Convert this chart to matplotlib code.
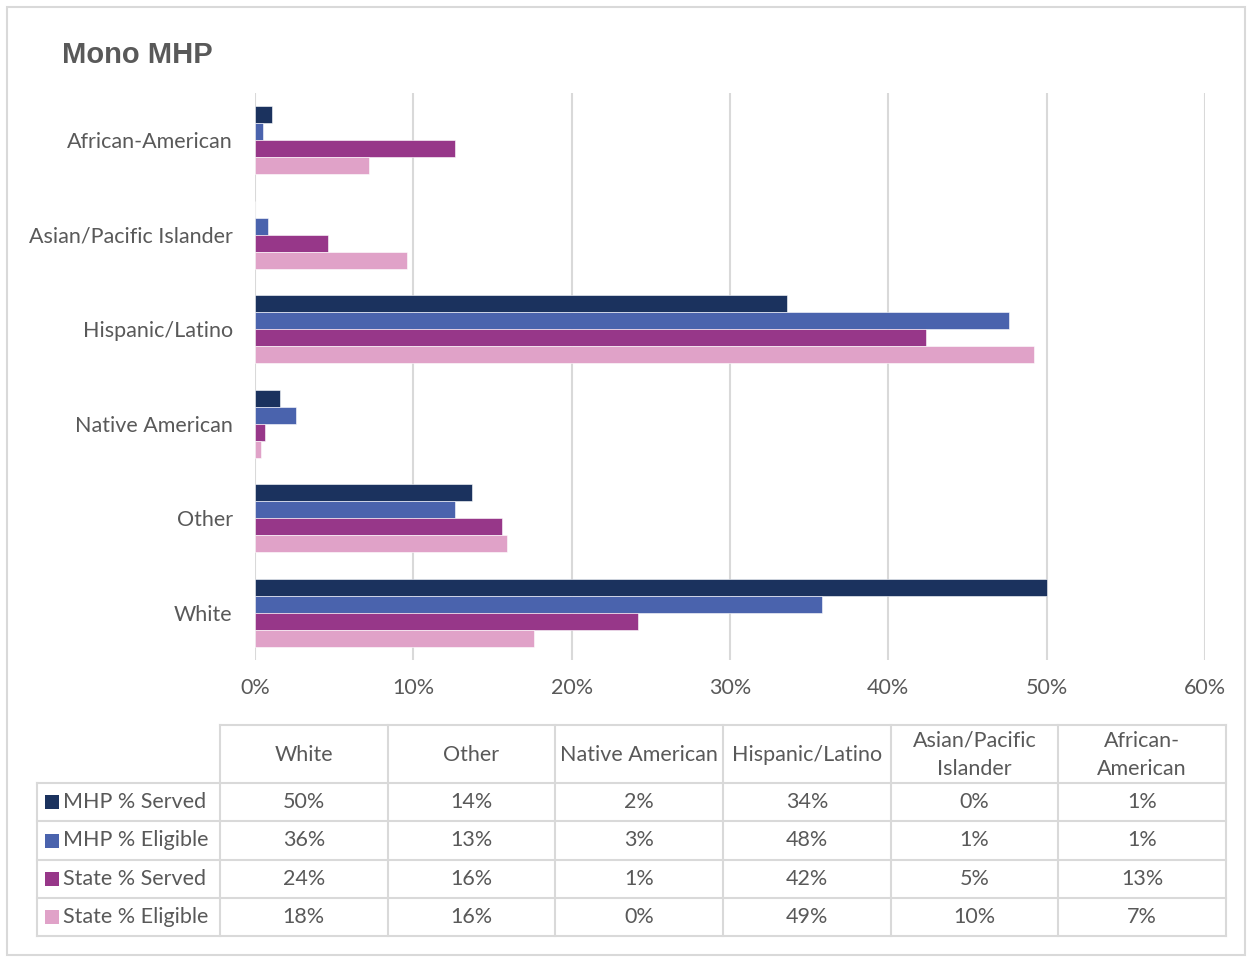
import matplotlib.pyplot as plt
import numpy as np
from matplotlib.patches import Rectangle

plt.rcParams['font.family'] = ['Lato', 'DejaVu Sans']

# categories in table order (bottom to top on the chart)
categories = ['White', 'Other', 'Native American', 'Hispanic/Latino',
              'Asian/Pacific Islander', 'African-American']
table_headers = ['White', 'Other', 'Native American', 'Hispanic/Latino',
                 'Asian/Pacific\nIslander', 'African-\nAmerican']

series_names = ['MHP % Served', 'MHP % Eligible', 'State % Served', 'State % Eligible']
mhp_served = [50.0, 13.7, 1.6, 33.6, 0.0, 1.05]
mhp_eligible = [35.8, 12.6, 2.6, 47.6, 0.8, 0.52]
state_served = [24.2, 15.6, 0.6, 42.4, 4.6, 12.6]
state_eligible = [17.6, 15.9, 0.35, 49.2, 9.6, 7.2]

colors = ['#1B325E', '#4A63AD', '#973789', '#E0A2C8']
grey = '#595959'
line_grey = '#d9d9d9'
fs = 15.5

W, H = 1252, 961
fig = plt.figure(figsize=(W / 100, H / 100), dpi=100)

# main bar chart
ax = fig.add_axes([255 / W, 1 - 660 / H, (1205 - 255) / W, (660 - 93) / H])
y = np.arange(len(categories))
h = 0.18
all_series = [mhp_served, mhp_eligible, state_served, state_eligible]
offsets = [1.5 * h, 0.5 * h, -0.5 * h, -1.5 * h]
for vals, off, c in zip(all_series, offsets, colors):
    ax.barh(y + off, vals, height=h, color=c, edgecolor='white', linewidth=0.4, zorder=3)

ax.set_xlim(0, 60)
ax.set_ylim(-0.5, len(categories) - 0.5)
ax.set_xticks(np.arange(0, 61, 10))
ax.set_xticklabels([f'{t}%' for t in range(0, 61, 10)])
ax.set_yticks(y)
ax.set_yticklabels(categories)
ax.tick_params(axis='x', length=0, pad=13, labelsize=fs, labelcolor=grey)
ax.tick_params(axis='y', length=0, pad=16, labelsize=fs, labelcolor=grey)
ax.grid(axis='x', color=line_grey, linewidth=1.5, zorder=0)
ax.set_axisbelow(True)
for s in ax.spines.values():
    s.set_visible(False)

# overlay in pixel coordinates for border, title and data table
ov = fig.add_axes([0, 0, 1, 1])
ov.set_xlim(0, W)
ov.set_ylim(H, 0)
ov.axis('off')

ov.add_patch(Rectangle((7, 7), 1238, 948, fill=False, edgecolor=line_grey, linewidth=1.5))
ov.text(62, 55, 'Mono MHP', fontsize=21, fontweight='bold', color=grey,
        family=['Liberation Sans', 'DejaVu Sans'], va='center', ha='left')

col_x = np.linspace(220, 1226, len(categories) + 1)
row_y = [725, 783, 821, 860, 898, 936]
lw = 1.5
# horizontal lines
ov.plot([220, 1226], [row_y[0], row_y[0]], color=line_grey, lw=lw)
for ry in row_y[1:]:
    ov.plot([37, 1226], [ry, ry], color=line_grey, lw=lw)
# vertical lines
ov.plot([37, 37], [row_y[1], row_y[-1]], color=line_grey, lw=lw)
for cx in col_x:
    ov.plot([cx, cx], [row_y[0], row_y[-1]], color=line_grey, lw=lw)

# header
for i, lab in enumerate(table_headers):
    cx = (col_x[i] + col_x[i + 1]) / 2
    ov.text(cx, (row_y[0] + row_y[1]) / 2 + 1, lab, ha='center', va='center',
            fontsize=fs, color=grey, linespacing=1.55)

# rows
for r, (name, vals, c) in enumerate(zip(series_names, all_series, colors)):
    cy = (row_y[r + 1] + row_y[r + 2]) / 2
    ov.add_patch(Rectangle((45, cy - 7), 14, 14, facecolor=c, edgecolor='none'))
    ov.text(63, cy, name, ha='left', va='center', fontsize=fs, color=grey)
    for i, v in enumerate(vals):
        cx = (col_x[i] + col_x[i + 1]) / 2
        ov.text(cx, cy, f'{v:.0f}%', ha='center', va='center', fontsize=fs, color=grey)

fig.savefig('out.png', dpi=100)
